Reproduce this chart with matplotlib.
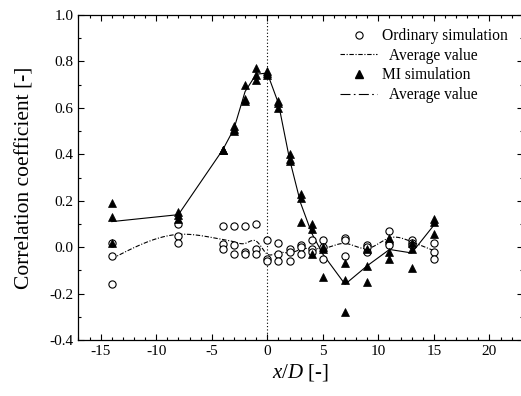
import numpy as np
import matplotlib
matplotlib.use("Agg")
import matplotlib.pyplot as plt
from matplotlib.lines import Line2D
from matplotlib.ticker import MultipleLocator, FormatStrFormatter

plt.rcParams['font.family'] = ['Liberation Serif', 'DejaVu Serif']
plt.rcParams['mathtext.fontset'] = 'custom'
plt.rcParams['mathtext.rm'] = 'Liberation Serif'
plt.rcParams['mathtext.it'] = 'Liberation Serif:italic'
plt.rcParams['axes.unicode_minus'] = False

# ---- data ----
x_pos = [-14, -8, -4, -3, -2, -1, 0, 1, 2, 3, 4, 5, 7, 9, 11, 13, 15]

# ordinary simulation: three realisations per position
ord_a = [0.02, 0.10, 0.09, 0.09, 0.09, 0.10, 0.03, 0.02, -0.01, 0.01, 0.03, 0.03, 0.04, 0.01, 0.07, 0.03, 0.02]
ord_b = [-0.04, 0.05, 0.015, 0.01, -0.02, -0.01, -0.05, -0.03, -0.02, 0.00, -0.01, 0.00, 0.03, 0.00, 0.02, 0.02, -0.02]
ord_c = [-0.16, 0.02, -0.01, -0.03, -0.03, -0.03, -0.06, -0.06, -0.06, -0.03, -0.02, -0.05, -0.04, -0.02, 0.01, 0.01, -0.05]
ord_avg = [-0.05, 0.055, 0.033, 0.023, 0.016, 0.026, -0.03, -0.023, -0.025, -0.01, -0.005, -0.006, 0.016, -0.006, 0.04, 0.023, -0.015]

# MI simulation: three realisations per position
mi_a = [0.19, 0.15, 0.42, 0.52, 0.70, 0.77, 0.76, 0.63, 0.40, 0.23, 0.10, 0.00, -0.07, -0.01, 0.04, 0.02, 0.12]
mi_b = [0.13, 0.14, 0.42, 0.51, 0.64, 0.74, 0.75, 0.62, 0.38, 0.21, 0.08, -0.01, -0.14, -0.08, -0.02, -0.01, 0.11]
mi_c = [0.02, 0.12, 0.42, 0.50, 0.63, 0.72, 0.74, 0.60, 0.37, 0.11, -0.03, -0.13, -0.28, -0.15, -0.05, -0.09, 0.055]
mi_avg = [0.11, 0.14, 0.42, 0.51, 0.67, 0.745, 0.75, 0.62, 0.38, 0.19, 0.06, -0.03, -0.16, -0.08, -0.01, -0.025, 0.095]

x_ticks = [-15, -10, -5, 0, 5, 10, 15, 20]
y_ticks = [-0.4, -0.2, 0.0, 0.2, 0.4, 0.6, 0.8, 1.0]


def natural_spline(x, y, n=400):
    x = np.asarray(x, float)
    y = np.asarray(y, float)
    m = len(x)
    h = np.diff(x)
    A = np.zeros((m, m))
    r = np.zeros(m)
    A[0, 0] = 1
    A[-1, -1] = 1
    for i in range(1, m - 1):
        A[i, i - 1] = h[i - 1]
        A[i, i] = 2 * (h[i - 1] + h[i])
        A[i, i + 1] = h[i]
        r[i] = 6 * ((y[i + 1] - y[i]) / h[i] - (y[i] - y[i - 1]) / h[i - 1])
    M = np.linalg.solve(A, r)
    xs = np.linspace(x[0], x[-1], n)
    idx = np.clip(np.searchsorted(x, xs) - 1, 0, m - 2)
    x0, x1 = x[idx], x[idx + 1]
    hh = x1 - x0
    t0, t1 = x1 - xs, xs - x0
    ys = (M[idx] * t0 ** 3 + M[idx + 1] * t1 ** 3) / (6 * hh) \
        + (y[idx] / hh - M[idx] * hh / 6) * t0 \
        + (y[idx + 1] / hh - M[idx + 1] * hh / 6) * t1
    return xs, ys


fig = plt.figure(figsize=(5.21, 3.96), dpi=100)
ax = fig.add_axes([0.1505, 0.1414, 0.853, 0.8207])

ax.axvline(0, color='black', lw=0.8, ls=(0, (1, 2)), zorder=1)

short_dd = (0, (4, 1.5, 1, 1.5))
long_dd = (0, (9, 3, 1.5, 3))

sx, sy = natural_spline(x_pos, ord_avg)
ax.plot(sx, sy, color='black', lw=0.8, ls=short_dd, zorder=2)
ax.plot(x_pos, mi_avg, color='black', lw=0.8, ls='-', zorder=2)

for ser in (ord_a, ord_b, ord_c):
    ax.plot(x_pos, ser, ls='none', marker='o', ms=5.2, mfc='white', mec='black', mew=0.8, zorder=3)
for ser in (mi_a, mi_b, mi_c):
    ax.plot(x_pos, ser, ls='none', marker='^', ms=6.3, mfc='black', mec='black', mew=0.5, zorder=4)

ax.set_xlim(-17, 23)
ax.set_ylim(-0.4, 1.0)
ax.set_xticks(x_ticks)
ax.set_yticks(y_ticks)
ax.xaxis.set_minor_locator(MultipleLocator(1))
ax.yaxis.set_minor_locator(MultipleLocator(0.1))
ax.yaxis.set_major_formatter(FormatStrFormatter('%.1f'))
ax.tick_params(which='both', direction='in', top=True, right=True, labelsize=11, width=0.8)
ax.tick_params(which='major', length=4)
ax.tick_params(which='minor', length=2.5)
for sp in ax.spines.values():
    sp.set_linewidth(0.9)

ax.set_xlabel('$x/D$ [-]', fontsize=15, labelpad=3)
ax.set_ylabel('Correlation coefficient [-]', fontsize=15.5, labelpad=11)

handles = [
    Line2D([], [], ls='none', marker='o', ms=5.2, mfc='white', mec='black', mew=0.8),
    Line2D([], [], color='black', lw=0.8, ls=short_dd),
    Line2D([], [], ls='none', marker='^', ms=6.3, mfc='black', mec='black'),
    Line2D([], [], color='black', lw=0.8, ls=long_dd),
]
labels = ['Ordinary simulation', '  Average value', 'MI simulation', '  Average value']
fig.legend(handles, labels, loc='upper left', bbox_to_anchor=(340 / 521, 1 - 28 / 396),
           bbox_transform=fig.transFigure, frameon=False, fontsize=11.2,
           handlelength=2.4, handletextpad=0.3, labelspacing=0.24,
           borderpad=0, borderaxespad=0)

fig.savefig('out.png', dpi=100)
